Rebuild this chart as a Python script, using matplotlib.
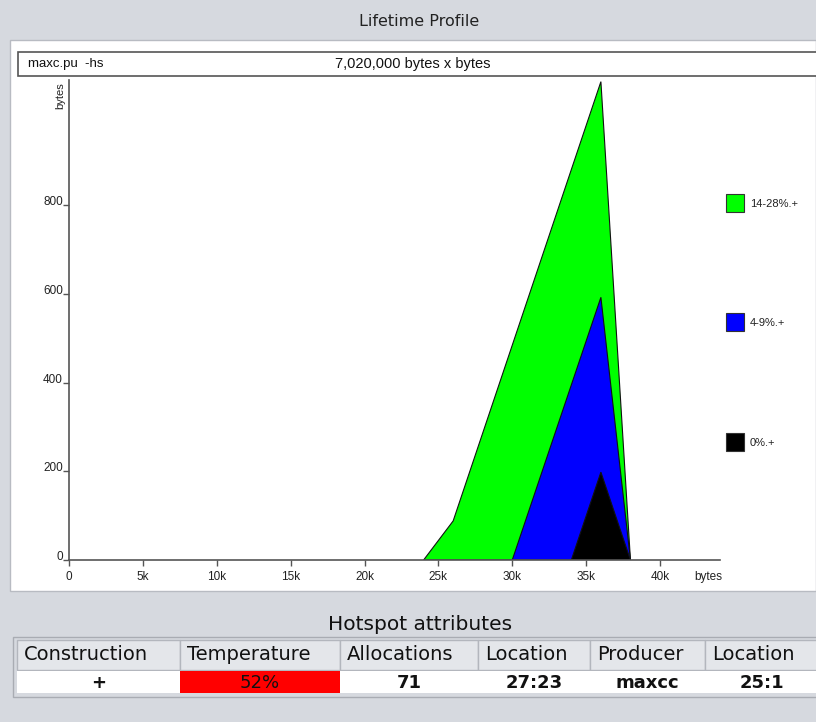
import matplotlib
matplotlib.use("Agg")
import matplotlib.pyplot as plt
from matplotlib.patches import Rectangle

# ---- data ----
series_labels = ["14-28%.+", "4-9%.+", "0%.+"]
series_colors = ["#00ff00", "#0000ff", "#000000"]
green_x = [24000, 26000, 36000, 38000]
green_y = [0, 88, 1078, 0]
blue_x = [30000, 36000, 38000]
blue_y = [0, 592, 0]
black_x = [34000, 36000, 38000]
black_y = [0, 198, 0]
x_ticks = [0, 5000, 10000, 15000, 20000, 25000, 30000, 35000, 40000]
x_ticklabels = ["0", "5k", "10k", "15k", "20k", "25k", "30k", "35k", "40k"]
y_ticks = [0, 200, 400, 600, 800]
y_ticklabels = ["0", "200", "400", "600", "800"]

table_headers = ["Construction", "Temperature", "Allocations", "Location", "Producer", "Location"]
table_row = ["+", "52%", "71", "27:23", "maxcc", "25:1"]

W, H = 816, 722
fig = plt.figure(figsize=(W / 100, H / 100), dpi=100)
fig.patch.set_facecolor("#d6d9df")

bg = fig.add_axes([0, 0, 1, 1])
bg.set_xlim(0, W)
bg.set_ylim(H, 0)
bg.axis("off")

SANS = ["Liberation Sans", "DejaVu Sans"]
DJ = ["DejaVu Sans"]

# Title bar
bg.text(419, 22, "Lifetime Profile", ha="center", va="center", fontsize=11.5,
        family=DJ, color="#222222")
# white main panel
bg.add_patch(Rectangle((10, 40), W - 10, 551, facecolor="white",
                       edgecolor="#b8bbc2", lw=1))
# header box
bg.add_patch(Rectangle((18, 52), W - 18 + 5, 24, facecolor="white",
                       edgecolor="#555555", lw=1.2))
bg.text(28, 64, "maxc.pu  -hs", ha="left", va="center", fontsize=9.5,
        family=SANS, color="#111111")
bg.text(413, 64, "7,020,000 bytes x bytes", ha="center", va="center",
        fontsize=10.5, family=SANS, color="#111111")

# legend
leg_y = [203, 322, 442]
for lab, col, yy in zip(series_labels, series_colors, leg_y):
    bg.add_patch(Rectangle((726, yy - 9), 18, 18, facecolor=col,
                           edgecolor="#333333", lw=0.8))
    bg.text(750, yy + 1, lab, ha="left", va="center", fontsize=8,
            family=SANS, color="#222222")

# ---- plot axes ----
x0_px, x1_px = 69, 720
y0_px, y1_px = 560, 80
px_per_x = (660 - 69) / 40000.0
px_per_y = (560 - 205) / 800.0
xmax = (x1_px - x0_px) / px_per_x
ymax = (y0_px - y1_px) / px_per_y
ax = fig.add_axes([x0_px / W, 1 - y0_px / H, (x1_px - x0_px) / W,
                   (y0_px - y1_px) / H])
ax.set_facecolor("none")
ax.set_xlim(0, xmax)
ax.set_ylim(0, ymax)

for xs, ys, col in [(green_x, green_y, series_colors[0]),
                    (blue_x, blue_y, series_colors[1]),
                    (black_x, black_y, series_colors[2])]:
    ax.fill(xs, ys, facecolor=col, edgecolor="#111111", lw=0.8, zorder=2)

for s in ["top", "right"]:
    ax.spines[s].set_visible(False)
for s in ["left", "bottom"]:
    ax.spines[s].set_color("#555555")
    ax.spines[s].set_linewidth(1.2)
ax.set_xticks(x_ticks)
ax.set_xticklabels(x_ticklabels)
ax.set_yticks(y_ticks)
ax.set_yticklabels(y_ticklabels)
ax.tick_params(axis="x", length=4, width=1, color="#555555",
               labelsize=8.5, labelcolor="#222222", pad=4)
ax.tick_params(axis="y", length=4, width=1, color="#555555",
               labelsize=8.5, labelcolor="#222222", pad=0.5)
for lbl in ax.get_xticklabels() + ax.get_yticklabels():
    lbl.set_family(SANS)
for lbl in ax.get_yticklabels():
    lbl.set_verticalalignment("baseline")

bg.text(708, 577, "bytes", ha="center", va="center", fontsize=8.5,
        family=SANS, color="#222222")
bg.text(60, 96, "bytes", ha="center", va="center", fontsize=8,
        family=SANS, color="#222222", rotation=90)

# ---- Hotspot table ----
bg.text(420, 624, "Hotspot attributes", ha="center", va="center",
         fontsize=14.5, family=DJ, color="#111111")
bg.add_patch(Rectangle((13, 637), W - 13 + 5, 60, facecolor="#d6d9df",
                       edgecolor="#a9acb3", lw=1))
col_edges = [17, 180, 340, 478, 590, 705, W + 3]
for i, (h, v) in enumerate(zip(table_headers, table_row)):
    xa, xb = col_edges[i], col_edges[i + 1]
    bg.add_patch(Rectangle((xa, 640), xb - xa, 30, facecolor="#e4e6ea",
                           edgecolor="#b3b6bd", lw=1))
    bg.text(xa + 7, 655, h, ha="left", va="center", fontsize=14,
            family=DJ, color="#111111")
    cell_col = "#ff0000" if i == 1 else "white"
    bg.add_patch(Rectangle((xa, 671), xb - xa, 22, facecolor=cell_col,
                           edgecolor="none"))
    bg.text((xa + xb) / 2, 683, v, ha="center", va="center", fontsize=13,
            family=DJ, color="#111111",
            fontweight="normal" if i == 1 else "bold")

fig.savefig("out.png", dpi=100, facecolor=fig.get_facecolor())
